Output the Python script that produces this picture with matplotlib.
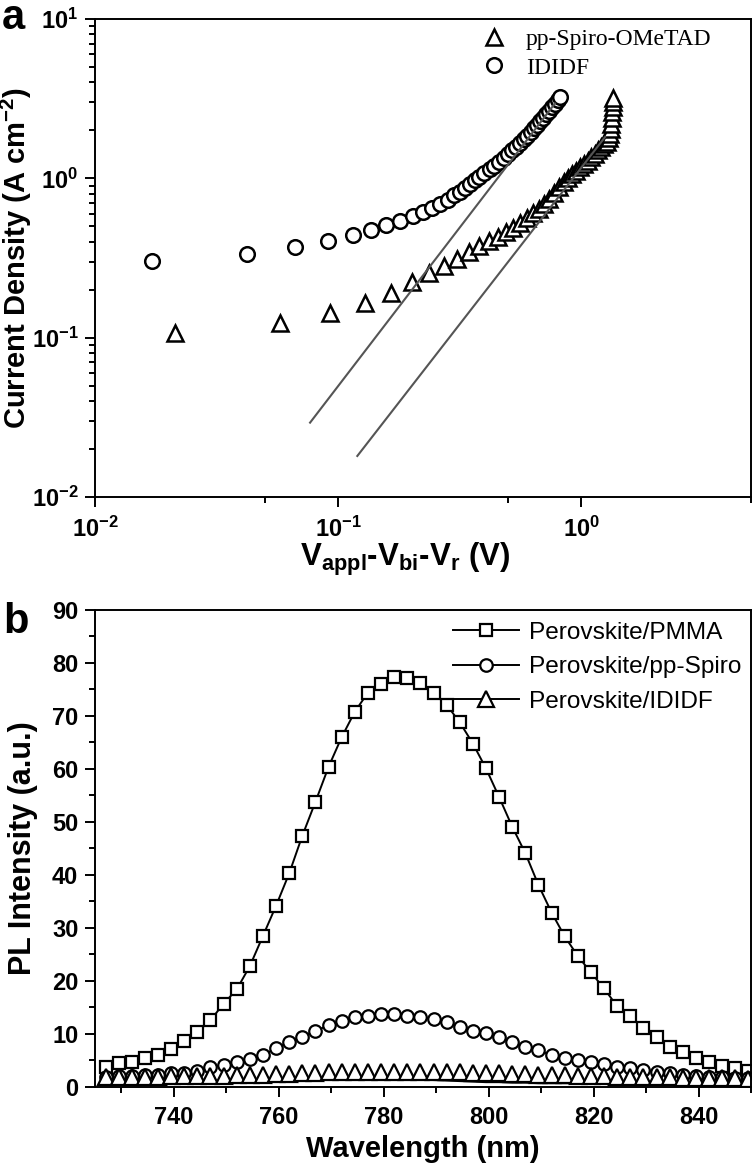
import matplotlib
matplotlib.use("Agg")
import matplotlib.pyplot as plt
from matplotlib.ticker import FixedLocator, MultipleLocator, NullFormatter

plt.rcParams['font.family'] = ['Liberation Sans', 'DejaVu Sans']
plt.rcParams['mathtext.fontset'] = 'custom'
plt.rcParams['mathtext.rm'] = 'Liberation Sans'
plt.rcParams['mathtext.bf'] = 'Liberation Sans:bold'
plt.rcParams['mathtext.it'] = 'Liberation Sans:italic'

# ---- panel a: J-V (log-log) ----
spiro_v = [0.0213, 0.0577, 0.0927, 0.129, 0.165, 0.201, 0.237, 0.273, 0.309, 0.345,
           0.381, 0.417, 0.453, 0.489, 0.525, 0.561, 0.597, 0.633, 0.669, 0.705,
           0.741, 0.777, 0.813, 0.849, 0.885, 0.921, 0.957, 0.993, 1.029, 1.065,
           1.101, 1.137, 1.173, 1.209, 1.245, 1.281, 1.30, 1.315, 1.325, 1.333,
           1.34, 1.345, 1.35, 1.353, 1.355]
spiro_j = [0.107, 0.124, 0.1436, 0.164, 0.192, 0.224, 0.255, 0.281, 0.310, 0.343,
           0.378, 0.403, 0.430, 0.458, 0.491, 0.526, 0.564, 0.603, 0.644, 0.689,
           0.746, 0.811, 0.879, 0.955, 1.01, 1.06, 1.11, 1.17, 1.23, 1.29,
           1.36, 1.43, 1.50, 1.57, 1.64, 1.70, 1.78, 1.90, 2.05, 2.20,
           2.40, 2.60, 2.80, 3.00, 3.20]

ididf_v = [0.0172, 0.042, 0.0665, 0.091, 0.115, 0.136, 0.158, 0.180, 0.203, 0.223,
           0.243, 0.263, 0.283, 0.300, 0.318, 0.334, 0.349, 0.366, 0.380, 0.40,
           0.42, 0.44, 0.46, 0.48, 0.50, 0.52, 0.54, 0.56, 0.58, 0.60,
           0.62, 0.64, 0.66, 0.68, 0.70, 0.72, 0.74, 0.76, 0.78, 0.80, 0.817]
ididf_j = [0.305, 0.336, 0.370, 0.403, 0.438, 0.471, 0.506, 0.539, 0.577, 0.614,
           0.654, 0.693, 0.734, 0.782, 0.820, 0.869, 0.917, 0.971, 1.02, 1.08,
           1.14, 1.20, 1.27, 1.34, 1.42, 1.50, 1.58, 1.67, 1.76, 1.85,
           1.95, 2.06, 2.17, 2.28, 2.40, 2.52, 2.65, 2.79, 2.94, 3.09, 3.25]

# SCLC fits (slope 2)
fit_ididf_v = [0.0767, 0.780]
fit_ididf_j = [0.0293, 2.95]
fit_spiro_v = [0.120, 1.256]
fit_spiro_j = [0.0181, 1.82]

# ---- panel b: PL spectra ----
wavelength = [727.0, 729.5, 732.0, 734.5, 737.0, 739.5, 742.0, 744.5, 747.0, 749.5,
              752.0, 754.5, 757.0, 759.5, 762.0, 764.5, 767.0, 769.5, 772.0, 774.5,
              777.0, 779.5, 782.0, 784.5, 787.0, 789.5, 792.0, 794.5, 797.0, 799.5,
              802.0, 804.5, 807.0, 809.5, 812.0, 814.5, 817.0, 819.5, 822.0, 824.5,
              827.0, 829.5, 832.0, 834.5, 837.0, 839.5, 842.0, 844.5, 847.0, 849.5]
pl_pmma = [3.8, 4.5, 4.8, 5.4, 6.0, 7.1, 8.7, 10.4, 12.6, 15.7,
           18.4, 22.8, 28.5, 34.2, 40.3, 47.4, 53.8, 60.4, 66.0, 70.8,
           74.4, 76.0, 77.3, 77.1, 76.2, 74.3, 72.1, 68.8, 64.8, 60.1,
           54.7, 49.1, 44.1, 38.1, 32.9, 28.4, 24.7, 21.6, 18.6, 15.2,
           13.3, 11.1, 9.5, 7.6, 6.5, 5.4, 4.8, 4.0, 3.5, 3.1]
pl_spiro = [1.9, 2.1, 2.1, 2.3, 2.3, 2.6, 2.7, 3.1, 3.7, 4.2,
            4.8, 5.2, 6.0, 7.3, 8.5, 9.5, 10.6, 11.6, 12.5, 13.2,
            13.4, 13.8, 13.8, 13.4, 13.2, 12.8, 12.2, 11.4, 10.6, 10.1,
            9.4, 8.4, 7.5, 6.9, 6.0, 5.4, 5.1, 4.8, 4.3, 3.7,
            3.5, 3.2, 2.9, 2.6, 2.3, 2.1, 1.9, 1.9, 1.6, 1.6]
pl_ididf = [1.8, 1.8, 1.9, 1.9, 1.9, 2.0, 2.0, 2.0, 2.1, 2.1,
            2.2, 2.2, 2.3, 2.4, 2.5, 2.6, 2.7, 2.8, 2.8, 2.9,
            2.9, 2.9, 2.9, 2.9, 2.9, 2.8, 2.8, 2.8, 2.7, 2.7,
            2.6, 2.5, 2.4, 2.3, 2.3, 2.2, 2.1, 2.0, 2.0, 1.9,
            1.9, 1.8, 1.8, 1.8, 1.7, 1.7, 1.7, 1.6, 1.6, 1.5]
pl_ididf_line = [0.6, 0.7, 0.7, 0.8, 0.8, 0.9, 0.9, 1.0, 1.0, 1.1,
                 1.1, 1.2, 1.2, 1.3, 1.3, 1.4, 1.4, 1.5, 1.5, 1.5,
                 1.5, 1.5, 1.5, 1.5, 1.4, 1.3, 1.2, 1.1, 1.0, 0.9,
                 0.9, 0.8, 0.8, 0.7, 0.7, 0.7, 0.7, 0.6, 0.6, 0.6,
                 0.6, 0.6, 0.5, 0.5, 0.5, 0.5, 0.5, 0.4, 0.4, 0.4]

fig = plt.figure(figsize=(7.56, 11.67), dpi=100)
ax1 = fig.add_axes([0.1257, 0.5741, 0.8677, 0.4096])
ax2 = fig.add_axes([0.1257, 0.0686, 0.8677, 0.4087])

for ax in (ax1, ax2):
    for sp in ax.spines.values():
        sp.set_linewidth(1.4)
    ax.tick_params(which='both', direction='out', top=False, right=False, width=1.4)
    ax.tick_params(which='major', length=7, labelsize=17)
    ax.tick_params(which='minor', length=4)
    ax.tick_params(axis='x', which='major', pad=7)
    ax.tick_params(axis='y', which='major', pad=5)

# panel a
ax1.plot(spiro_v, spiro_j, ls='none', marker='^', ms=12, mfc='white', mec='black', mew=1.8,
         label='pp-Spiro-OMeTAD', zorder=3)
ax1.plot(ididf_v, ididf_j, ls='none', marker='o', ms=10.5, mfc='white', mec='black', mew=1.8,
         label='IDIDF', zorder=3)
ax1.plot(fit_ididf_v, fit_ididf_j, color='#555555', lw=1.5, zorder=4)
ax1.plot(fit_spiro_v, fit_spiro_j, color='#555555', lw=1.5, zorder=4)
ax1.set_xscale('log')
ax1.set_yscale('log')
ax1.set_xlim(0.01, 5)
ax1.set_ylim(0.01, 10)
ax1.xaxis.set_major_locator(FixedLocator([0.01, 0.1, 1]))
ax1.set_xticklabels([r'$\mathbf{10^{-2}}$', r'$\mathbf{10^{-1}}$', r'$\mathbf{10^{0}}$'])
ax1.xaxis.set_minor_locator(FixedLocator([0.05, 0.5, 5]))
ax1.xaxis.set_minor_formatter(NullFormatter())
ax1.yaxis.set_major_locator(FixedLocator([0.01, 0.1, 1, 10]))
ax1.set_yticklabels([r'$\mathbf{10^{-2}}$', r'$\mathbf{10^{-1}}$', r'$\mathbf{10^{0}}$', r'$\mathbf{10^{1}}$'])
ax1.yaxis.set_minor_locator(FixedLocator([m * d for d in (0.01, 0.1, 1) for m in range(2, 10)]))
ax1.yaxis.set_minor_formatter(NullFormatter())
ax1.set_xlabel(r'V$_\mathbf{appl}$-V$_\mathbf{bi}$-V$_\mathbf{r}$ (V)', fontsize=22.5, fontweight='bold')
ax1.xaxis.set_label_coords(0.473, -0.092)
ax1.set_ylabel(r'Current Density (A cm$^\mathbf{-2}$)', fontsize=21, fontweight='bold')
ax1.yaxis.set_label_coords(-0.093, 0.5)
ax1.legend(loc='upper left', bbox_to_anchor=(0.59, 0.98), frameon=False, borderpad=0, borderaxespad=0,
           handlelength=1.0, handletextpad=0.85, labelspacing=0.3,
           prop={'family': 'Liberation Serif', 'size': 17})

# panel b
ax2.plot(wavelength, pl_pmma, color='black', lw=1.4, marker='s', ms=8.5, mfc='white', mec='black',
         mew=1.6, label='Perovskite/PMMA')
ax2.plot(wavelength, pl_spiro, color='black', lw=1.4, marker='o', ms=9, mfc='white', mec='black',
         mew=1.6, label='Perovskite/pp-Spiro')
ax2.plot(wavelength, pl_ididf_line, color='black', lw=1.4)
ax2.plot(wavelength, pl_ididf, ls='none', marker='^', ms=11, mfc='white', mec='black', mew=1.6)
ax2.plot([], [], color='black', lw=1.4, marker='^', ms=11, mfc='white', mec='black', mew=1.6,
         label='Perovskite/IDIDF')
ax2.set_xlim(725, 850)
ax2.set_ylim(0, 90)
ax2.xaxis.set_major_locator(MultipleLocator(20))
ax2.xaxis.set_minor_locator(MultipleLocator(10))
ax2.yaxis.set_major_locator(MultipleLocator(10))
ax2.yaxis.set_minor_locator(MultipleLocator(5))
for lab in ax2.get_xticklabels() + ax2.get_yticklabels():
    lab.set_fontweight('bold')
ax2.set_xlabel('Wavelength (nm)', fontsize=21, fontweight='bold', labelpad=4)
ax2.set_ylabel('PL Intensity (a.u.)', fontsize=22, fontweight='bold')
ax2.yaxis.set_label_coords(-0.087, 0.5)
ax2.legend(loc='upper left', bbox_to_anchor=(0.546, 0.975), frameon=False, borderpad=0, borderaxespad=0,
           handlelength=2.7, handletextpad=0.4, labelspacing=0.5, fontsize=17.6)

fig.text(0.002, 0.975, 'a', fontsize=30, fontweight='bold', va='baseline')
fig.text(0.005, 0.4576, 'b', fontsize=30, fontweight='bold', va='baseline')

fig.savefig('out.png', dpi=100)
